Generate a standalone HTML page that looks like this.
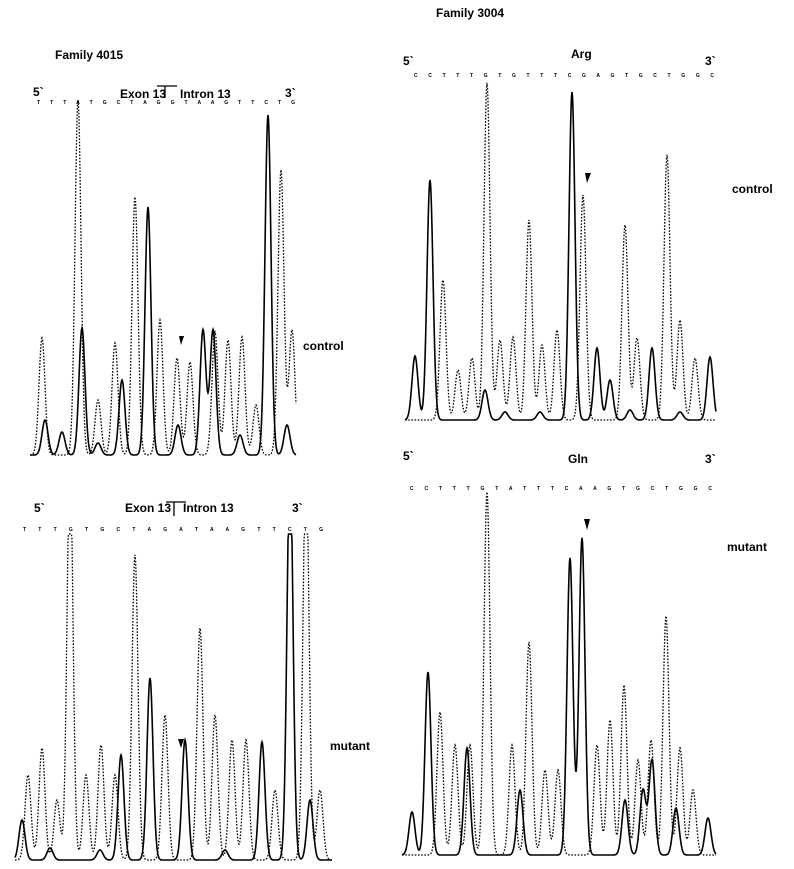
<!DOCTYPE html>
<html><head><meta charset="utf-8">
<style>
html,body{margin:0;padding:0;background:#fff;}
svg{display:block;font-family:"Liberation Sans",sans-serif;}
.h{font-weight:bold;font-size:12px;}
.seq{font-size:5px;font-weight:bold;letter-spacing:0;}
</style></head>
<body>
<svg id="fig" width="794" height="869" viewBox="0 0 794 869">
<text class="h" x="55" y="59">Family 4015</text>
<text class="h" x="436" y="17">Family 3004</text>
<text class="h" x="33" y="96" font-size="10">5`</text>
<text class="h" x="120" y="98" font-size="7">Exon 13</text>
<path d="M157,86 H177 M165,86 V98" stroke="#000" stroke-width="1.3" fill="none"/>
<text class="h" x="180" y="98" font-size="7">Intron 13</text>
<text class="h" x="285" y="97" font-size="10">3`</text>
<text class="seq" x="37" y="104" textLength="258">T T T A T G C T A G G T A A G T T C T G</text>
<text class="h" x="303" y="350" font-size="11">control</text>

<text class="h" x="403" y="65" font-size="13">5`</text>
<text class="h" x="571" y="58" font-size="11">Arg</text>
<text class="h" x="705" y="65" font-size="13">3`</text>
<text class="seq" x="414" y="77" textLength="300">C C T T T G T G T T T C G A G T G C T G G C</text>
<text class="h" x="732" y="193" font-size="11">control</text>

<text class="h" x="34" y="512" font-size="10">5`</text>
<text class="h" x="125" y="512" font-size="7">Exon 13</text>
<path d="M166,502 H186 M174,502 V516" stroke="#000" stroke-width="1.3" fill="none"/>
<text class="h" x="183" y="512" font-size="7">Intron 13</text>
<text class="h" x="292" y="512" font-size="10">3`</text>
<text class="seq" x="23" y="531" textLength="300">T T T G T G C T A G A T A A G T T C T G</text>
<text class="h" x="330" y="750" font-size="11">mutant</text>

<text class="h" x="403" y="460" font-size="13">5`</text>
<text class="h" x="568" y="463" font-size="11">Gln</text>
<text class="h" x="705" y="463" font-size="13">3`</text>
<text class="seq" x="410" y="490" textLength="302">C C T T T G T A T T T C A A G T G C T G G C</text>
<text class="h" x="727" y="551" font-size="11">mutant</text>

<path d="M179,336 l5,0 l-3,9z" fill="#000"/>
<path d="M585,173 l6,0 l-4,10z" fill="#000"/>
<path d="M178,739 l6,0 l-3,9z" fill="#000"/>
<path d="M584,519 l6,0 l-3,11z" fill="#000"/>
<g id="traces"></g>
</svg>
<script>
// Panel data: peak positions (scan index) and peak heights (signal units)
const tlSolidPos=[45,62,82,98,122,148,178,203,213,240,268,287];
const tlSolidH=[35,23,127,12,75,248,30,125,125,20,340,30];
const tlDotPos=[42,78,98,115,135,160,177,190,215,228,242,256,281,292];
const tlDotH=[117,355,55,112,258,135,97,93,123,115,118,50,285,125];
const trSolidPos=[415,430,485,505,540,572,597,610,630,652,680,710];
const trSolidH=[64,240,30,8,8,328,72,40,10,72,8,63];
const trDotPos=[443,458,472,487,500,513,529,542,557,583,625,637,667,680,695];
const trDotH=[140,50,62,337,80,83,200,75,90,225,195,82,265,100,62];
const blSolidPos=[22,50,100,121,150,185,225,262,290,310];
const blSolidH=[40,12,10,105,182,120,10,118,400,60];
const blDotPos=[28,42,57,70,86,101,115,135,165,200,215,232,246,275,306,320];
const blDotH=[85,112,60,400,85,115,85,305,145,232,145,120,120,70,400,70];
const brSolidPos=[412,428,467,520,570,582,625,643,652,676,708];
const brSolidH=[43,183,107,65,297,317,55,65,95,47,37];
const brDotPos=[440,455,470,487,512,529,545,558,597,610,624,638,651,666,680,693];
const brDotH=[143,110,110,363,110,213,85,85,110,135,170,95,115,239,107,65];

const panels=[
 {name:'tl',x0:30,x1:296,base:455,clip:0,sp:tlSolidPos,sh:tlSolidH,dp:tlDotPos,dh:tlDotH},
 {name:'tr',x0:405,x1:716,base:420,clip:0,sp:trSolidPos,sh:trSolidH,dp:trDotPos,dh:trDotH},
 {name:'bl',x0:15,x1:332,base:860,clip:326,sp:blSolidPos,sh:blSolidH,dp:blDotPos,dh:blDotH},
 {name:'br',x0:402,x1:716,base:855,clip:0,sp:brSolidPos,sh:brSolidH,dp:brDotPos,dh:brDotH}
];
const xScale=(p,v)=>v;
const yScale=(p,v)=>p.base-v;
const g=document.getElementById('traces');
const NS='http://www.w3.org/2000/svg';
function trace(p,pos,hs,dotted,label){
  let pts=[];
  for(let x=p.x0;x<=p.x1;x+=0.5){
    let s=0;
    for(let i=0;i<pos.length;i++){
      const d=x-xScale(p,pos[i]);
      s+=hs[i]*Math.exp(-d*d/(2*3*3));
    }
    if(p.clip&&s>p.clip)s=p.clip;
    pts.push(x.toFixed(1)+','+yScale(p,s).toFixed(1));
  }
  const pl=document.createElementNS(NS,'polyline');
  pl.setAttribute('points',pts.join(' '));
  pl.setAttribute('fill','none');
  pl.setAttribute('stroke','#000');
  pl.setAttribute('stroke-width',dotted?'1.3':'1.6');
  if(dotted)pl.setAttribute('stroke-dasharray','1.6 1.6');
  
  
  g.appendChild(pl);
}
panels.forEach(p=>{
  trace(p,p.dp,p.dh,true,p.name+'-dotted-trace');
  trace(p,p.sp,p.sh,false,p.name+'-solid-trace');
});
</script>
</body></html>
